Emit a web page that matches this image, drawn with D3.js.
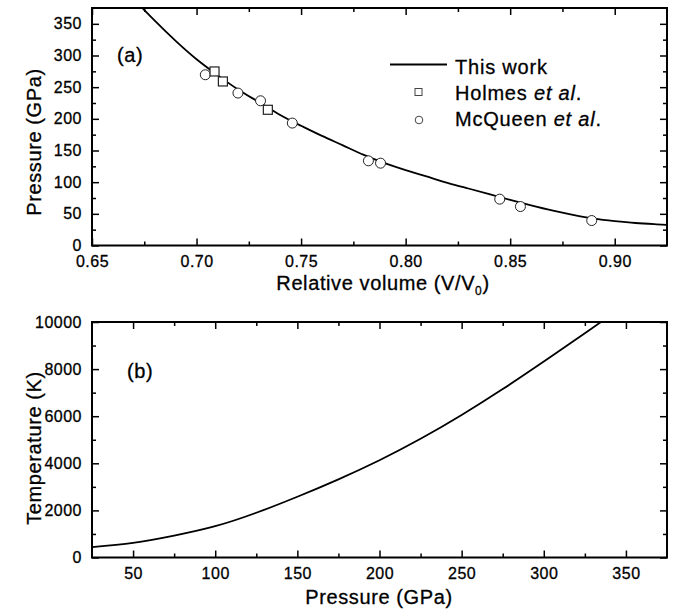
<!DOCTYPE html>
<html>
<head>
<meta charset="utf-8">
<script src="https://cdn.jsdelivr.net/npm/d3@7"></script>
<style>
  body { margin: 0; background: #fff; }
  svg { display: block; font-family: "Liberation Sans", Arial, sans-serif; }
  svg text { fill: #000; stroke: #000; stroke-width: 0.3px; }
  .tick text { font-size: 16px; letter-spacing: 0.5px; }
  .domain { display: none; }
  .tick line { stroke: #000; stroke-width: 1.5; }
</style>
</head>
<body>
<div id="chart"></div>
<script>
// (a) P-V curve, this work
const curveVol = [0.672, 0.680, 0.690, 0.700, 0.710, 0.720, 0.730, 0.740, 0.750, 0.760,
  0.770, 0.780, 0.790, 0.800, 0.810, 0.820, 0.830, 0.840, 0.850, 0.860,
  0.870, 0.880, 0.890, 0.900, 0.910, 0.920, 0.925];
const curvePres = [382, 355, 323, 294, 269, 246, 226, 206, 189, 173,
  158, 143, 130, 119, 109, 99, 90, 81, 72, 63.5,
  55.5, 48.5, 42.5, 38.5, 35.5, 33.5, 32.5];

// Holmes et al.
const holmesVol = [0.7086, 0.7126, 0.7341];
const holmesPres = [274.8, 259, 214.3];

// McQueen et al.
const mcqVol = [0.7042, 0.7198, 0.7306, 0.7458, 0.7822, 0.7880, 0.8450, 0.8549, 0.8890];
const mcqPres = [269.6, 240.7, 228.5, 193.3, 133.7, 130, 73.2, 61.5, 39.4];

// (b) T-P curve
const tpPres = [25, 50, 75, 100, 125, 150, 175, 200, 225, 250, 275, 300, 325, 340];
const tpTemp = [440, 620, 930, 1330, 1900, 2580, 3320, 4130, 5040, 6050, 7150, 8320, 9520, 10260];

const volTicks = [0.65, 0.70, 0.75, 0.80, 0.85, 0.90];
const volMinor = [0.675, 0.725, 0.775, 0.825, 0.875];
const presTicks = [0, 50, 100, 150, 200, 250, 300, 350];
const presMinor = [25, 75, 125, 175, 225, 275, 325];
const pTicks = [50, 100, 150, 200, 250, 300, 350];
const pMinor = [75, 125, 175, 225, 275, 325];
const tTicks = [0, 2000, 4000, 6000, 8000, 10000];
const tMinor = [1000, 3000, 5000, 7000, 9000];

const width = 679, height = 614;
const svg = d3.select("#chart").append("svg")
  .attr("width", width).attr("height", height);

const left = 92, right = 667;

function panel(top, bottom, xDom, yDom, xt, xm, yt, ym, xfmt, id) {
  const x = d3.scaleLinear().domain(xDom).range([left, right]);
  const y = d3.scaleLinear().domain(yDom).range([bottom, top]);
  const h = bottom - top, w = right - left;

  svg.append("clipPath").attr("id", id)
    .append("rect").attr("x", left).attr("y", top).attr("width", w).attr("height", h);

  // bottom axis with labels
  svg.append("g").attr("transform", `translate(0,${bottom})`)
    .call(d3.axisBottom(x).tickValues(xt).tickSize(-7).tickPadding(10).tickFormat(xfmt));
  svg.append("g").attr("transform", `translate(0,${bottom})`)
    .call(d3.axisBottom(x).tickValues(xm).tickSize(-4).tickFormat(""));
  // top mirror
  svg.append("g").attr("transform", `translate(0,${top})`)
    .call(d3.axisTop(x).tickValues(xt).tickSize(-7).tickFormat(""));
  svg.append("g").attr("transform", `translate(0,${top})`)
    .call(d3.axisTop(x).tickValues(xm).tickSize(-4).tickFormat(""));
  // left axis with labels
  svg.append("g").attr("transform", `translate(${left},0)`)
    .call(d3.axisLeft(y).tickValues(yt).tickSize(-7).tickPadding(10).tickFormat(d3.format("d")));
  svg.append("g").attr("transform", `translate(${left},0)`)
    .call(d3.axisLeft(y).tickValues(ym).tickSize(-4).tickFormat(""));
  // right mirror
  svg.append("g").attr("transform", `translate(${right},0)`)
    .call(d3.axisRight(y).tickValues(yt).tickSize(-7).tickFormat(""));
  svg.append("g").attr("transform", `translate(${right},0)`)
    .call(d3.axisRight(y).tickValues(ym).tickSize(-4).tickFormat(""));

  svg.append("rect")
    .attr("x", left).attr("y", top).attr("width", w).attr("height", h)
    .attr("fill", "none").attr("stroke", "#000").attr("stroke-width", 2);

  return { x, y };
}

// ---- panel (a)
const a = panel(8, 245.5, [0.65, 0.925], [0, 375], volTicks, volMinor, presTicks, presMinor, d3.format(".2f"), "clipA");

const lineA = d3.line()
  .x((d, i) => a.x(curveVol[i]))
  .y(d => a.y(d))
  .curve(d3.curveNatural);

svg.append("path")
  .datum(curvePres)
  .attr("clip-path", "url(#clipA)")
  .attr("d", lineA)
  .attr("fill", "none").attr("stroke", "#000").attr("stroke-width", 1.8);

svg.append("g").selectAll("circle")
  .data(mcqPres)
  .join("circle")
  .attr("cx", (d, i) => a.x(mcqVol[i]))
  .attr("cy", d => a.y(d))
  .attr("r", 5)
  .attr("fill", "#fff").attr("stroke", "#222").attr("stroke-width", 1);

svg.append("g").selectAll("rect")
  .data(holmesPres)
  .join("rect")
  .attr("x", (d, i) => a.x(holmesVol[i]) - 4.5)
  .attr("y", d => a.y(d) - 4.5)
  .attr("width", 9).attr("height", 9)
  .attr("fill", "#fff").attr("stroke", "#222").attr("stroke-width", 1.2);

svg.append("text").attr("x", 117).attr("y", 62)
  .attr("font-size", 20).attr("letter-spacing", "0.6px").text("(a)");

// legend
const leg = svg.append("g");
leg.append("line").attr("x1", 390).attr("x2", 447).attr("y1", 64.5).attr("y2", 64.5)
  .attr("stroke", "#000").attr("stroke-width", 1.8);
leg.append("rect").attr("x", 415).attr("y", 88.5).attr("width", 7).attr("height", 7)
  .attr("fill", "#fff").attr("stroke", "#444").attr("stroke-width", 1);
leg.append("circle").attr("cx", 419).attr("cy", 120).attr("r", 3.8)
  .attr("fill", "#fff").attr("stroke", "#444").attr("stroke-width", 1);

const legText = leg.append("g").attr("font-size", 20).attr("letter-spacing", "0.8px");
legText.append("text").attr("x", 455).attr("y", 73.5).text("This work");
const t2 = legText.append("text").attr("x", 455).attr("y", 100);
t2.append("tspan").text("Holmes ");
t2.append("tspan").attr("font-style", "italic").text("et al");
t2.append("tspan").text(".");
const t3 = legText.append("text").attr("x", 455).attr("y", 126);
t3.append("tspan").text("McQueen ");
t3.append("tspan").attr("font-style", "italic").text("et al");
t3.append("tspan").text(".");

// axis titles (a)
const xt = svg.append("text").attr("x", 383).attr("y", 290)
  .attr("text-anchor", "middle").attr("font-size", 20).attr("letter-spacing", "0.6px");
xt.append("tspan").text("Relative volume (V/V");
xt.append("tspan").attr("font-size", 12).attr("dy", 5).text("0");
xt.append("tspan").attr("dy", -5).text(")");

svg.append("text")
  .attr("transform", "translate(41,142) rotate(-90)")
  .attr("text-anchor", "middle").attr("font-size", 20).attr("letter-spacing", "0.6px")
  .text("Pressure (GPa)");

// ---- panel (b)
const b = panel(322, 557.5, [25, 375], [0, 10000], pTicks, pMinor, tTicks, tMinor, d3.format("d"), "clipB");

const lineB = d3.line()
  .x((d, i) => b.x(tpPres[i]))
  .y(d => b.y(d))
  .curve(d3.curveNatural);

svg.append("path")
  .datum(tpTemp)
  .attr("clip-path", "url(#clipB)")
  .attr("d", lineB)
  .attr("fill", "none").attr("stroke", "#000").attr("stroke-width", 1.8);

svg.append("text").attr("x", 127).attr("y", 378)
  .attr("font-size", 20).attr("letter-spacing", "0.6px").text("(b)");

svg.append("text").attr("x", 379).attr("y", 604)
  .attr("text-anchor", "middle").attr("font-size", 20).attr("letter-spacing", "0.6px")
  .text("Pressure (GPa)");

svg.append("text")
  .attr("transform", "translate(41,448) rotate(-90)")
  .attr("text-anchor", "middle").attr("font-size", 20).attr("letter-spacing", "0.6px")
  .text("Temperature (K)");
</script>
</body>
</html>
